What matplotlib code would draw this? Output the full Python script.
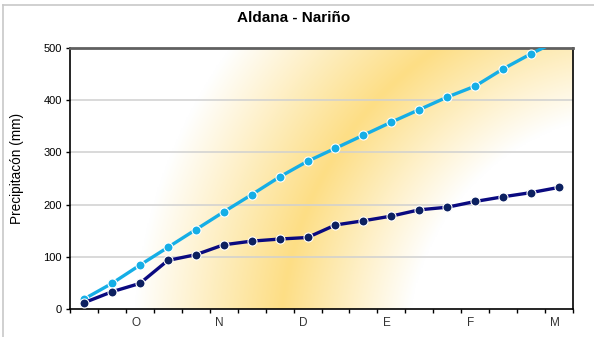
import matplotlib.pyplot as plt
import numpy as np
from matplotlib.lines import Line2D

plt.rcParams['font.family'] = ['Liberation Sans', 'DejaVu Sans']

# 18 periods, month labels on every third one
periods = np.arange(18)
month_labels = ['O', 'N', 'D', 'E', 'F', 'M']
month_pos = [2, 5, 8, 11, 14, 17]

# cumulative precipitation (mm)
serie_alta = [19, 49, 84, 118, 152, 186, 219, 253, 283, 308, 333, 358, 382, 406, 427, 460, 489, 515]
serie_baja = [12, 33, 49, 93, 104, 123, 130, 134, 137, 161, 169, 178, 190, 195, 206, 215, 223, 233]

W, H = 594, 337
fig = plt.figure(figsize=(W / 100, H / 100), dpi=100)
ax = fig.add_axes([70 / W, 1 - 309 / H, 503 / W, 261 / H])

# background: ring-shaped yellow gradient (pixel units inside the axes)
px, py = np.meshgrid(np.linspace(0, 503, 400), np.linspace(0, 261, 220))
r = np.hypot(px - 573, py - 299)
t = np.where(r < 363, (r - 235) / 128, (510 - r) / 147)
t = np.clip(t, 0, 1)
yellow = np.array([253, 222, 133]) / 255
img = 1 - t[..., None] * (1 - yellow)
ax.imshow(img, extent=[0, 1, 0, 1], transform=ax.transAxes, aspect='auto',
          origin='upper', zorder=0, interpolation='bilinear')

ax.set_xlim(-0.5, 17.5)
ax.set_ylim(0, 500)

for v in range(100, 500, 100):
    ax.axhline(v, color='#d0d0d0', lw=1.1, zorder=1)

ax.plot(periods, serie_alta, color='#15aee6', lw=2.4, marker='o', ms=6.5,
        mfc='#15aee6', mec='white', mew=0.8, zorder=3, clip_on=True)
ax.plot(periods, serie_baja, color='#0a0a80', lw=2.4, marker='o', ms=6.5,
        mfc='#0c2060', mec='white', mew=0.8, zorder=3)

ax.set_yticks(range(0, 501, 100))
ax.set_xticks(np.arange(-0.5, 18, 1))
ax.set_xticklabels([])
ax.tick_params(axis='both', direction='out', length=3, width=1, colors='black', labelsize=8)
ax.tick_params(axis='y', pad=3)
for p, lab in zip(month_pos, month_labels):
    ax.text(p - 0.15, -16, lab, ha='center', va='top', fontsize=8.5, color='#333333')

for s in ['left', 'bottom', 'right']:
    ax.spines[s].set_color('black')
    ax.spines[s].set_linewidth(1.2)
ax.spines['top'].set_color('#606060')
ax.spines['top'].set_linewidth(2)

ax.set_ylabel('Precipitacón (mm)', fontsize=9.8)
ax.yaxis.set_label_coords(-0.092, 0.54)
fig.text(294 / W, 1 - 18 / H, 'Aldana - Nariño', ha='center', va='center',
         fontsize=11, fontweight='bold')

# outer frame (top and left edges)
fig.add_artist(Line2D([3 / W, 1], [1 - 5 / H, 1 - 5 / H], color='#c8c8c8', lw=1.2))
fig.add_artist(Line2D([3 / W, 3 / W], [0, 1 - 5 / H], color='#c8c8c8', lw=1.2))

fig.savefig('out.png', dpi=100)
